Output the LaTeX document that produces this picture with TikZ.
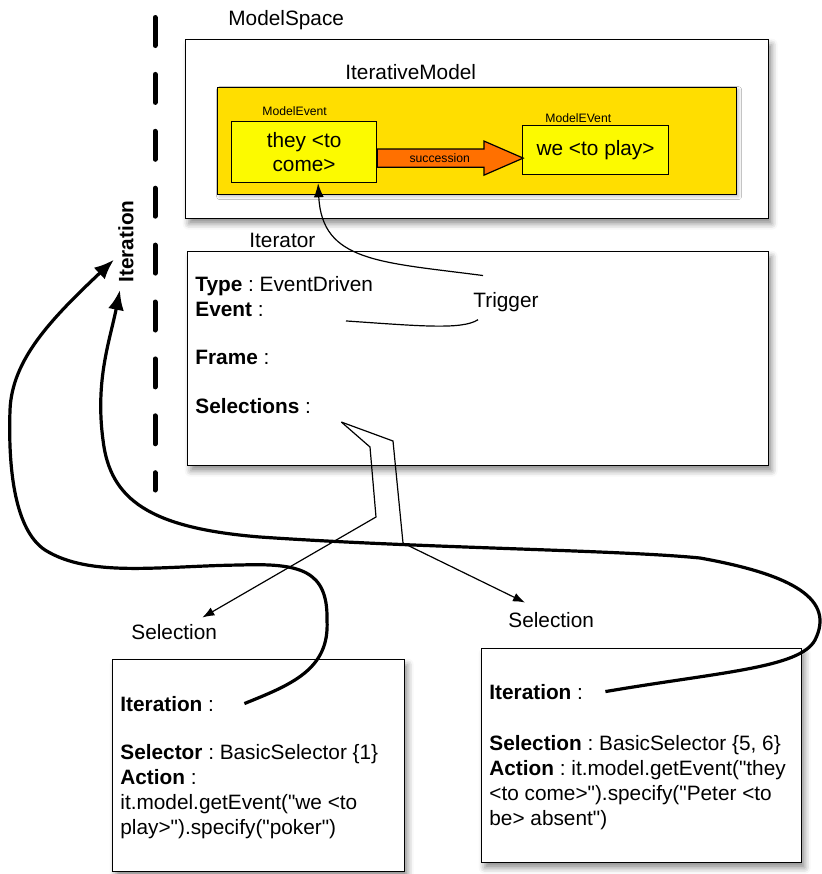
\documentclass[tikz,border=0pt]{standalone}
\usepackage{fontspec}
\setmainfont{Liberation Sans}[Ligatures=TeXOff]
\usetikzlibrary{arrows.meta,shapes.arrows,shadows.blur,calc}
\frenchspacing

\definecolor{gold}{RGB}{255,222,0}
\definecolor{evyellow}{RGB}{252,250,0}
\definecolor{succorange}{RGB}{255,112,0}

\begin{document}
\begin{tikzpicture}[
        x=0.5pt, y=-0.5pt,
        font=\fontsize{10.4}{12.4}\selectfont,
        box/.style={draw,line width=0.7pt,fill=white,anchor=north west,inner sep=0pt,
            blur shadow={shadow xshift=1.5pt,shadow yshift=-2.5pt,shadow blur radius=3pt,shadow opacity=45}},
        modelbox/.style={draw,line width=0.6pt,fill=gold,anchor=north west,inner sep=0pt,
            blur shadow={shadow xshift=1pt,shadow yshift=-1pt,shadow blur radius=1.5pt,shadow opacity=25}},
        ev/.style={draw,line width=0.6pt,fill=evyellow,anchor=north west,align=center,inner sep=0pt},
        lbl/.style={anchor=base west,inner sep=0pt},
        smalllbl/.style={lbl,font=\fontsize{6.1}{7}\selectfont},
        wire/.style={line width=0.6pt},
        iterline/.style={line width=1.6pt,-{Latex[length=10pt,width=8pt]}}
    ]

    \useasboundingbox (0,0) rectangle (822,874);

    \draw[line width=2.5pt,line cap=round,dash pattern=on 14pt off 14.45pt] (155,17.5) -- (155,490);
    \node[font=\fontsize{10.4}{12.4}\selectfont\bfseries,rotate=90,inner sep=2pt] (iterlbl) at (126,241.5) {Iteration};

    \node[box,minimum width=291.5pt,minimum height=89.5pt] (space) at (185,39) {};
    \node[lbl] (spacelbl) at (228,25.5) {ModelSpace};
    \node[modelbox,minimum width=259.5pt,minimum height=53.5pt] (itmodel) at (217,87) {};
    \node[lbl] (itmodellbl) at (345,79.5) {IterativeModel};
    \node[ev,minimum width=72.5pt,minimum height=30.5pt] (ev1) at (231,121) {they <to\\come>};
    \node[smalllbl] (ev1lbl) at (262,115) {ModelEvent};
    \node[ev,minimum width=73pt,minimum height=24.5pt] (ev2) at (522,125) {we <to play>};
    \node[smalllbl] (ev2lbl) at (545,122.5) {ModelEVent};
    \node[single arrow,draw,fill=succorange,line width=0.6pt,inner xsep=1pt,inner ysep=2pt,
        outer sep=0pt,minimum height=73pt,single arrow head extend=4pt,single arrow tip angle=47,
        anchor=tail,font=\fontsize{6.1}{7}\selectfont] (succ) at ([yshift=-3pt]ev1.east) {succession};

    \node[box,minimum width=290.5pt,minimum height=107pt] (iter) at (187,251) {};
    \node[lbl] (iterator) at (249,247) {Iterator};
    \node[lbl] (type) at (195,291) {\textbf{Type} : EventDriven};
    \node[lbl] (event) at (195,316) {\textbf{Event} :};
    \node[lbl] (frame) at (195,364.5) {\textbf{Frame} :};
    \node[lbl] (sels) at (195,413.5) {\textbf{Selections} :};
    \node[lbl] (trig) at (473,307) {Trigger};

    \node[box,minimum width=146pt,minimum height=106pt] (selA) at (112,659) {};
    \node[lbl] (itA) at (120,711) {\textbf{Iteration} :};
    \node[lbl] (selectorA) at (120,759) {\textbf{Selector} : BasicSelector \{1\}};
    \node[lbl] (actionA) at (120,784) {\textbf{Action} :};
    \node[lbl] (codeA1) at (120,809) {it.model.getEvent("we <to};
    \node[lbl] (codeA2) at (120,834) {play>").specify("poker")};

    \node[box,minimum width=160pt,minimum height=107pt] (selB) at (481,648) {};
    \node[lbl] (itB) at (489,699) {\textbf{Iteration} :};
    \node[lbl] (selectorB) at (489,750) {\textbf{Selection} : BasicSelector \{5, 6\}};
    \node[lbl] (actionB) at (489,775) {\textbf{Action} : it.model.getEvent("they};
    \node[lbl] (codeB1) at (489,800) {<to come>").specify("Peter <to};
    \node[lbl] (codeB2) at (489,825) {be> absent")};

    \node[lbl] (selAlbl) at (131,639) {Selection};
    \node[lbl] (selBlbl) at (508,627) {Selection};

    \coordinate (fork) at ([xshift=15pt,yshift=-8pt]sels.east);
    \draw[wire,-{Latex[length=6pt,width=4.5pt]}] (fork) -- (370,447) -- (376,517) -- ([xshift=-7.5pt,yshift=3pt]selAlbl.north east);
    \draw[wire,-{Latex[length=6pt,width=4.5pt]}] (fork) -- (393,441) -- (403,543) -- ([xshift=8.5pt,yshift=4.5pt]selBlbl.north west);

    \draw[wire,-{Latex[length=7pt,width=5pt]}] ([xshift=5pt,yshift=8pt]trig.north west)
        .. controls (380,262) and (322,262) .. ([xshift=7pt]ev1.south);
    \draw[wire] ([xshift=41pt,yshift=-6pt]event.east)
        .. controls (420,326) and (462,330) .. ([xshift=2.5pt,yshift=-4pt]trig.south west);

    \draw[iterline] ([xshift=15pt]itA.east)
        .. controls (290,685) and (330,670) .. (327,620)
        .. controls (328,570) and (300,563) .. (240,565)
        .. controls (160,566) and (90,578) .. (45,550)
        .. controls (15,530) and (8,470) .. (10,410)
        .. controls (12,360) and (50,320) .. ($(iterlbl.north)!0.4!(iterlbl.north west)$);
    \draw[iterline] ([xshift=11pt]itB.east)
        .. controls (720,672) and (800,668) .. (815,640)
        .. controls (835,600) and (795,575) .. (700,558)
        .. controls (620,550) and (420,548) .. (260,537)
        .. controls (150,528) and (110,500) .. (103,440)
        .. controls (95,380) and (110,340) .. ([xshift=3pt,yshift=-1.5pt]iterlbl.north west);

\end{tikzpicture}
\end{document}
